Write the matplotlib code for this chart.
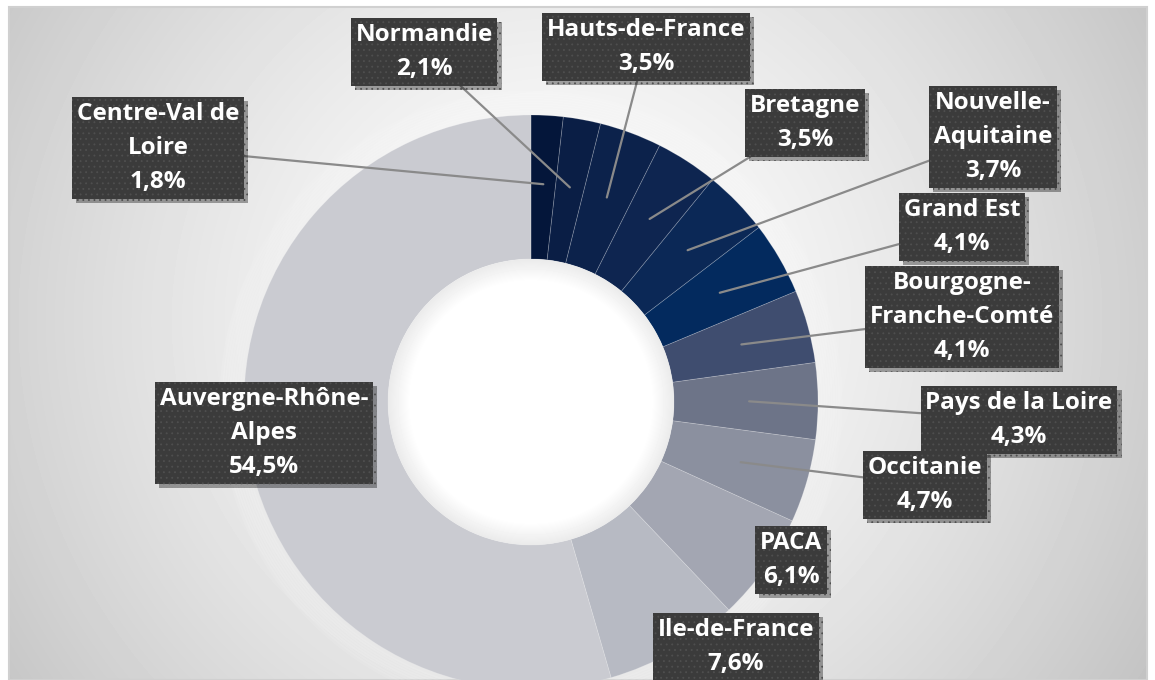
import numpy as np
import matplotlib.pyplot as plt
import matplotlib.patheffects as pe
from matplotlib.patches import Rectangle, Circle

# Datos: parte de cada región (%), en el orden del anillo (sentido horario desde arriba)
regiones = ['Centre-Val de\nLoire', 'Normandie', 'Hauts-de-France', 'Bretagne',
            'Nouvelle-\nAquitaine', 'Grand Est', 'Bourgogne-\nFranche-Comté',
            'Pays de la Loire', 'Occitanie', 'PACA', 'Ile-de-France',
            'Auvergne-Rhône-\nAlpes']
partes = [1.8, 2.1, 3.5, 3.5, 3.7, 4.1, 4.1, 4.3, 4.7, 6.1, 7.6, 54.5]
colores = ['#04163a', '#0a1e45', '#0c224b', '#0e2550', '#0b2856', '#032a5e',
           '#3f4d6f', '#6d7488', '#8b909f', '#a3a6b2', '#b7bac3', '#cacbd1']

# centro de cada etiqueta en pixeles (desde arriba a la izquierda)
pos_etiquetas = [(158, 148), (424, 52), (646, 47), (805, 123), (993, 137),
                 (962, 227), (962, 317), (1019, 420), (925, 485), (791, 560),
                 (736, 647), (264, 433)]
con_linea = [True] * 9 + [False] * 3

W, H = 1155, 680
cx, cy = 531, H - 402   # centro del anillo
R = 287                 # radio exterior
hueco = 143             # radio interior

plt.rcParams['hatch.linewidth'] = 0.6

fig = plt.figure(figsize=(W / 100, H / 100), dpi=100)
ax = fig.add_axes([0, 0, 1, 1])

# fondo con degradado radial
x0, x1, y0, y1 = 9, 1147, 7, 680
yy, xx = np.mgrid[y0:y1, x0:x1]
d = np.clip(np.hypot(xx - 560, yy - 320) / 720, 0, 1)
fondo = 1 - 0.25 * d ** 1.4
ax.imshow(fondo, cmap='gray', vmin=0, vmax=1, extent=[x0, x1, H - y1, H - y0],
          origin='upper', zorder=0, interpolation='bilinear')
ax.add_patch(Rectangle((x0, H - y1), x1 - x0, y1 - y0, fill=False,
                       edgecolor='#d0d0d0', lw=1.5, zorder=1))

# brillo blanco alrededor del anillo
for k in range(1, 10):
    ax.add_patch(Circle((cx, cy), R + k * 2.5, fill=False, edgecolor='white',
                        lw=3, alpha=0.10, zorder=1))

ax.pie(partes, colors=colores, startangle=90, counterclock=False,
       center=(cx, cy), radius=R,
       wedgeprops=dict(width=R - hueco, edgecolor=(1, 1, 1, 0.2), linewidth=0.6))

# hueco blanco con una sombra suave en el borde
n = 2 * hueco
gy, gx = np.mgrid[-hueco:hueco:n * 1j, -hueco:hueco:n * 1j]
r = np.hypot(gx, gy)
sombra = 1 - 0.08 * np.clip((r - (hueco - 22)) / 22, 0, 1)
im = ax.imshow(sombra, cmap='gray', vmin=0, vmax=1, zorder=2,
               extent=[cx - hueco, cx + hueco, cy - hueco, cy + hueco])
circulo = Circle((cx, cy), hueco, transform=ax.transData)
im.set_clip_path(circulo)

# etiquetas con lineas guia
acum = np.cumsum([0] + partes[:-1])
for i in range(len(partes)):
    ang = np.deg2rad(90 - 3.6 * (acum[i] + partes[i] / 2))
    ancla = (cx + 0.76 * R * np.cos(ang), cy + 0.76 * R * np.sin(ang))
    texto = regiones[i] + '\n' + f'{partes[i]:.1f}%'.replace('.', ',')
    lx, ly = pos_etiquetas[i]
    flecha = None
    if con_linea[i]:
        flecha = dict(arrowstyle='-', color='#8a8a8a', lw=1.6, shrinkA=0, shrinkB=0)
    t = ax.annotate(texto, xy=ancla, xytext=(lx, H - ly), ha='center', va='center',
                    color='white', fontsize=17.5, fontweight='bold', family='Open Sans',
                    linespacing=1.55, zorder=5, arrowprops=flecha,
                    bbox=dict(boxstyle='square,pad=0.2', facecolor='#3b3b3b',
                              edgecolor='#4f4f4f', linewidth=0, hatch='...'))
    t.get_bbox_patch().set_path_effects([
        pe.SimplePatchShadow(offset=(3, -3), shadow_rgbFace='black', alpha=0.35),
        pe.Normal()])

ax.set_xlim(0, W)
ax.set_ylim(0, H)
ax.set_aspect('equal')
ax.axis('off')
fig.savefig('out.png', dpi=100, facecolor='white')
